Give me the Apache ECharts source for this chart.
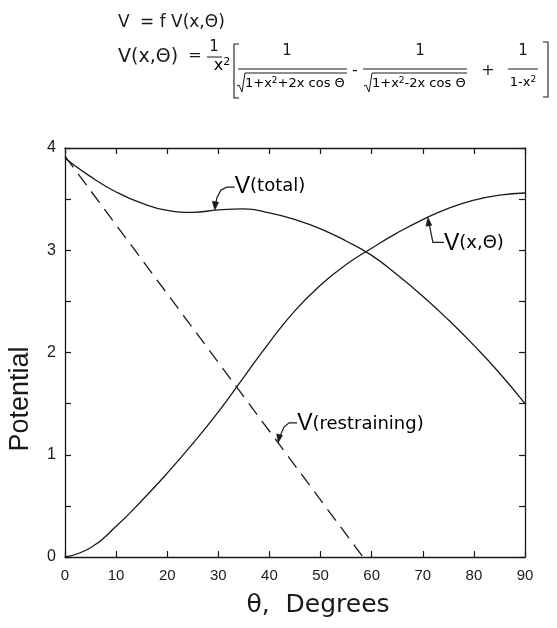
<!DOCTYPE html>
<html>
<head>
<meta charset="utf-8">
<script src="https://cdn.jsdelivr.net/npm/echarts@6/dist/echarts.min.js"></script>
<style>html,body{margin:0;padding:0;background:#fff}#c{width:557px;height:628px}</style>
</head>
<body>
<div id="c"></div>
<script>
// ---- data ----
const thetaDeg = [0,5,10,15,20,25,30,35,40,45,50,55,60,65,70,75,80,85,90];
const vXTheta  = [0,0.09,0.30,0.55,0.82,1.11,1.42,1.76,2.10,2.41,2.66,2.86,3.02,3.17,3.30,3.41,3.49,3.54,3.56];
const vTotal   = [3.90,3.72,3.57,3.46,3.39,3.37,3.395,3.405,3.365,3.30,3.21,3.09,2.95,2.76,2.55,2.32,2.07,1.80,1.50];
const thetaRestr = [0, 58.3];
const vRestr     = [3.92, 0];
const xTicks = [0,10,20,30,40,50,60,70,80,90];
const yTicks = [0,1,2,3,4];

const INK = '#1a1a1a';
const FONT = 'Liberation Sans';
const WFONT = 'DejaVu Sans';

const chart = echarts.init(document.getElementById('c'), null, {renderer:'canvas'});
const pair = (xs, ys) => xs.map((x,i)=>[x, ys[i]]);

const axisCommon = {
  axisLine:{show:true, onZero:false, lineStyle:{color:INK, width:1.3}},
  axisTick:{show:true, inside:true, length:6, lineStyle:{color:INK, width:1.2}},
  splitLine:{show:false}
};

chart.setOption({
  animation:false,
  backgroundColor:'#fff',
  grid:{left:65, right:32, top:148, bottom:71, containLabel:false},
  xAxis:[
    Object.assign({type:'value', min:0, max:90, interval:10, position:'bottom',
      axisLabel:{color:INK, fontFamily:FONT, fontSize:15, margin:11,
        formatter:v=> xTicks.includes(v)? String(v):''}}, axisCommon),
    Object.assign({type:'value', min:0, max:90, interval:10, position:'top',
      axisLabel:{show:false}}, axisCommon)
  ],
  yAxis:[
    Object.assign({type:'value', min:0, max:4, interval:0.5, position:'left',
      axisLabel:{color:INK, fontFamily:FONT, fontSize:16, margin:9,
        formatter:v=> yTicks.includes(v)? String(v):''}}, axisCommon),
    Object.assign({type:'value', min:0, max:4, interval:0.5, position:'right',
      axisLabel:{show:false}}, axisCommon)
  ],
  series:[
    {type:'line', name:'V(total)', data:pair(thetaDeg, vTotal), smooth:0.5, symbol:'none',
      lineStyle:{color:INK, width:1.3}},
    {type:'line', name:'V(x,θ)', data:pair(thetaDeg, vXTheta), smooth:0.5, symbol:'none',
      lineStyle:{color:INK, width:1.3}},
    {type:'line', name:'V(restraining)', data:pair(thetaRestr, vRestr), symbol:'none',
      lineStyle:{color:INK, width:1.3, type:[14,8]}}
  ]
});

// ---- annotations and formula (graphic layer) ----
const P = (x,y)=> chart.convertToPixel({gridIndex:0}, [x,y]);
const vAt = (arr, t)=> {
  const i = Math.min(thetaDeg.length-2, Math.floor(t/5));
  const f = (t - thetaDeg[i])/5; return arr[i] + f*(arr[i+1]-arr[i]);
};
const restrAt = t => vRestr[0] + (vRestr[1]-vRestr[0])*(t/thetaRestr[1]);

const g = [];
const line = (pts, w)=> g.push({type:'polyline', shape:{points:pts}, style:{stroke:INK, lineWidth:w||1.2, fill:null}, silent:true});
const tri = (pts)=> g.push({type:'polygon', shape:{points:pts}, style:{fill:INK, stroke:INK, lineWidth:0.5}, silent:true});
const txt = (x,y,t,size,fam,align)=> g.push({type:'text', x:x, y:y, silent:true,
  style:{text:t, fill:INK, fontSize:size, fontFamily:fam||WFONT, textAlign:align||'left', textVerticalAlign:'middle'}});

const labelRich = {v:{fontSize:23, fontFamily:FONT, color:INK}, t:{fontSize:18, fontFamily:WFONT, color:INK}};

// V(total) arrow
{
  const [x,y] = P(29.3, vAt(vTotal, 29.3));
  line([[x+20,y-23],[x+12,y-23],[x+6,y-20],[x+2,y-12],[x+0.5,y-4]]);
  tri([[x,y],[x-2.5,y-9],[x+4,y-8]]);
  g.push({type:'text', x:x+20, y:y-24, silent:true, style:{rich:labelRich, text:'{v|V}{t|(total)}', textVerticalAlign:'middle'}});
}
// V(x,θ) arrow
{
  const [x,y] = P(71, vAt(vXTheta, 71));
  line([[x+1,y+5],[x+5,y+25],[x+16,y+25]]);
  tri([[x,y],[x-2,y+9],[x+4,y+8]]);
  g.push({type:'text', x:x+16, y:y+26, silent:true, style:{rich:labelRich, text:'{v|V}{t|(x,Θ)}', textVerticalAlign:'middle'}});
}
// V(restraining) arrow
{
  const [x,y] = P(41.7, restrAt(41.7));
  line([[x+19,y-20],[x+11,y-20],[x+6,y-16],[x+2,y-7]]);
  tri([[x,y],[x-1.5,y-9],[x+4.5,y-7.5]]);
  g.push({type:'text', x:x+19, y:y-19, silent:true, style:{rich:labelRich, text:'{v|V}{t|(restraining)}', textVerticalAlign:'middle'}});
}

// axis titles
g.push({type:'text', x:21, y:399, rotation:Math.PI/2, silent:true,
  style:{text:'Potential', fill:INK, fontSize:27, fontFamily:FONT, textAlign:'center', textVerticalAlign:'middle'}});
g.push({type:'text', x:318, y:605, silent:true,
  style:{text:'θ,  Degrees', fill:INK, fontSize:25, fontFamily:WFONT, textAlign:'center', textVerticalAlign:'middle'}});

// formula line 1
txt(118, 23, 'V', 17);
txt(140, 23, '= f V(x,Θ)', 17);

// formula line 2
const supRich = {n:{fontSize:13, fontFamily:WFONT, color:INK}, s:{fontSize:9, fontFamily:WFONT, color:INK, verticalAlign:'top', lineHeight:16}};
txt(118, 57, 'V(x,Θ)', 19);
txt(195, 56, '=', 16, WFONT, 'center');
txt(214, 47, '1', 15, WFONT, 'center');
line([[207,57],[222,57]], 1);
g.push({type:'text', x:222, y:66, silent:true, style:{rich:{n:{fontSize:16,fontFamily:WFONT,color:INK}, s:{fontSize:11,fontFamily:WFONT,color:INK, verticalAlign:'top', lineHeight:19}}, text:'{n|x}{s|2}', textAlign:'center', textVerticalAlign:'middle'}});
// brackets
line([[239,44],[234,44],[234,98],[239,98]], 1.1);
line([[543,42],[548,42],[548,97],[543,97]], 1.1);
// fraction 1
txt(287, 51, '1', 15, WFONT, 'center');
line([[238,69],[347,69]], 1);
line([[237,86],[239,85],[242,92],[245,73],[347,73]], 1);
g.push({type:'text', x:245, y:84, silent:true, style:{rich:supRich, text:'{n|1+x}{s|2}{n|+2x cos Θ}', textAlign:'left', textVerticalAlign:'middle'}});
txt(355, 71, '-', 16, WFONT, 'center');
// fraction 2
txt(420, 51, '1', 15, WFONT, 'center');
line([[363,69],[467,69]], 1);
line([[364,86],[366,85],[369,92],[372,73],[467,73]], 1);
g.push({type:'text', x:372, y:84, silent:true, style:{rich:supRich, text:'{n|1+x}{s|2}{n|-2x cos Θ}', textAlign:'left', textVerticalAlign:'middle'}});
txt(488, 71, '+', 16, WFONT, 'center');
// fraction 3
txt(523, 51, '1', 15, WFONT, 'center');
line([[508,69],[538,69]], 1);
g.push({type:'text', x:523, y:83, silent:true, style:{rich:supRich, text:'{n|1-x}{s|2}', textAlign:'center', textVerticalAlign:'middle'}});

chart.setOption({graphic:{elements:g}});
</script>
</body>
</html>
